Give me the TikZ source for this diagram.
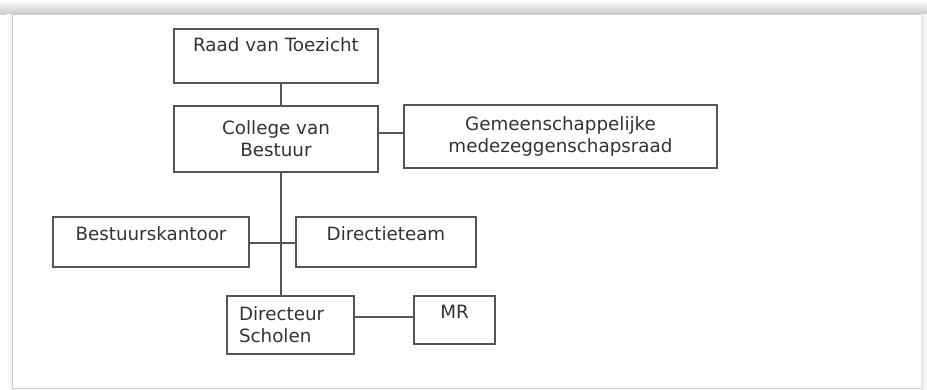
\documentclass[tikz,border=0pt]{standalone}
\usepackage{fontspec}
\setmainfont{DejaVu Sans}
\begin{document}
\begin{tikzpicture}[x=1pt,y=-1pt,
  box/.style={draw=boxgray, line width=1.4pt, rectangle, anchor=north west,
    inner sep=0pt, outer sep=0pt, text=txtgray,
    font=\fontsize{18.3}{22}\selectfont},
  link/.style={draw=boxgray, line width=1.4pt}]
\definecolor{boxgray}{HTML}{555555}
\definecolor{txtgray}{HTML}{333333}
\useasboundingbox (0,0) rectangle (927,390);
% frame and shadow
\shade[top color=white, bottom color=black!22] (0,0) rectangle (927,15);
\shade[left color=black!10, right color=white] (921,15) rectangle (927,390);
\shade[left color=white, right color=black!6] (6,15) rectangle (12,390);
\fill[white] (12,15) rectangle (921,388);
\draw[black!20, line width=1pt] (12,15) -- (12,388) -- (921,388);
% nodes
\node[box, minimum width=204pt, text height=23pt, text depth=31pt] (raad) at (174,29) {Raad van Toezicht};
\node[box, minimum width=204pt, minimum height=66pt, align=center] (college) at (174,106) {College van\\Bestuur};
\node[box, minimum width=313pt, minimum height=63pt, align=center] (gem) at (404,105) {Gemeenschappelijke\\medezeggenschapsraad};
\node[box, minimum width=196pt, text height=24pt, text depth=26pt] (bk) at (53,217) {Bestuurskantoor};
\node[box, minimum width=180pt, text height=24pt, text depth=26pt] (dt) at (296,217) {Directieteam};
\node[box, text width=103pt, inner xsep=12pt, minimum height=58pt, align=left] (dir) at (227,296) {Directeur\\Scholen};
\node[box, minimum width=81pt, text height=23pt, text depth=25pt] (mr) at (414,296) {MR};
% connectors
\coordinate (spine) at (281,0);
\coordinate (cg) at (390,133);
\coordinate (dm) at (384,317);
\coordinate (bd) at (281,243);
\draw[link] (raad.south -| spine) -- (college.north -| spine);
\draw[link] (college.south -| spine) -- (dir.north -| spine);
\draw[link] (college.east |- cg) -- (gem.west |- cg);
\draw[link] (bk.east |- bd) -- (dt.west |- bd);
\draw[link] (dir.east |- dm) -- (mr.west |- dm);
\end{tikzpicture}
\end{document}
